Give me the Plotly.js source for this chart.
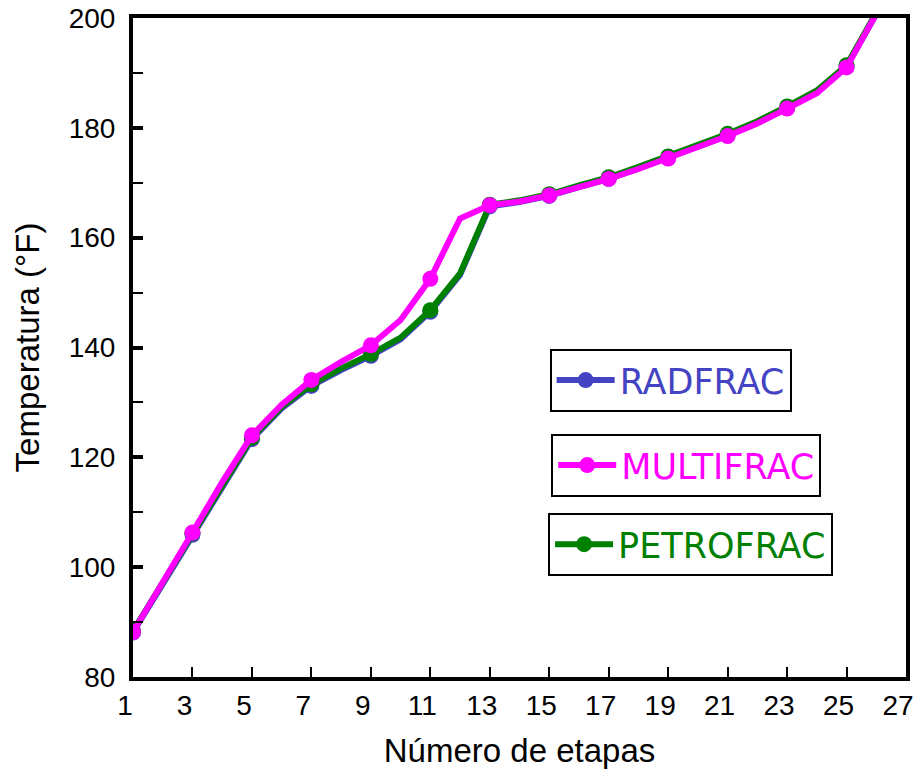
<!DOCTYPE html>
<html><head><meta charset="utf-8">
<script src="https://cdn.plot.ly/plotly-3.0.1.min.js"></script>
<style>html,body{margin:0;padding:0;background:#fff}#c{width:913px;height:774px}</style>
</head><body><div id="c"></div>
<script>
const stages = [1,2,3,4,5,6,7,8,9,10,11,12,13,14,15,16,17,18,19,20,21,22,23,24,25,26];
const radfrac = [88.1,96.9,105.9,115.0,123.3,128.9,133.0,135.9,138.5,141.5,146.5,153.2,165.7,166.5,167.6,169.2,170.7,172.6,174.5,176.6,178.6,180.9,183.6,186.5,191.1,200.7];
const multifrac = [88.2,97.0,106.3,115.5,124.0,129.6,134.1,137.4,140.4,145.0,152.5,163.5,165.9,166.6,167.7,169.2,170.7,172.5,174.4,176.5,178.5,180.8,183.5,186.3,191.0,200.8];
const petrofrac = [88.4,97.2,106.2,115.3,123.6,129.2,133.3,136.2,138.8,141.8,146.8,153.5,166.0,166.8,167.9,169.5,171.0,172.9,174.8,176.9,178.9,181.2,183.9,186.8,191.4,201.0];
const xTicks = [1,3,5,7,9,11,13,15,17,19,21,23,25,27];
const yTicks = [80,100,120,140,160,180,200];

function mk(name, y, color, legendId){
  const mc = stages.map(s => (s % 2 === 1) ? color : 'rgba(0,0,0,0)');
  return {x: stages, y: y, name: name, type: 'scatter', mode: 'lines+markers',
    line: {color: color, width: 6}, marker: {size: 16, color: mc, line: {width: 0}},
    cliponaxis: true, legend: legendId};
}
const traces = [
  mk('RADFRAC', radfrac, '#4343C3', 'legend'),
  mk('PETROFRAC', petrofrac, '#008000', 'legend3'),
  mk('MULTIFRAC', multifrac, '#FF00FF', 'legend2')
];
const legBase = {xref:'paper', yref:'paper', xanchor:'left', yanchor:'top', bgcolor:'#fff',
  bordercolor:'#000', borderwidth:2, itemwidth:58, itemclick:false};
const lf = c => ({family:'DejaVu Sans', size:35, color:c});
const layout = {
  width: 913, height: 774,
  margin: {l:133, r:7, t:18, b:97},
  paper_bgcolor: '#fff', plot_bgcolor: '#fff',
  showlegend: true,
  legend: Object.assign({}, legBase, {x:0.539, y:0.498, font:lf('#4343C3')}),
  legend2: Object.assign({}, legBase, {x:0.541, y:0.369, font:lf('#FF00FF')}),
  legend3: Object.assign({}, legBase, {x:0.537, y:0.249, font:lf('#008000')}),
  xaxis: {range:[1,27], tickvals: xTicks, ticktext: xTicks.map(String), ticks:'inside', ticklen:10, tickwidth:2,
    tickcolor:'#000', showline:true, linewidth:4, linecolor:'#000', mirror:true, showgrid:false, zeroline:false,
    ticklabeloverflow:'allow', ticklabelshift:-8,
    tickfont:{family:'Liberation Sans, Arial', size:28, color:'#000'},
    title:{text:'Número de etapas', font:{family:'Liberation Sans, Arial', size:33, color:'#000'}, standoff:20}},
  yaxis: {range:[80,200], tickvals: yTicks, ticktext: yTicks.map(String), ticks:'inside', ticklen:10, tickwidth:4,
    tickcolor:'#000', showline:true, linewidth:4, linecolor:'#000', mirror:true, showgrid:false, zeroline:false,
    ticklabelstandoff: 8, ticklabeloverflow:'allow',
    minor:{dtick:10, tick0:80, ticks:'inside', ticklen:10, tickwidth:2, tickcolor:'#000', showgrid:false},
    tickfont:{family:'Liberation Sans, Arial', size:28, color:'#000'},
    title:{text:'Temperatura (°F)', font:{family:'Liberation Sans, Arial', size:33, color:'#000'}, standoff:20}}
};
Plotly.newPlot('c', traces, layout, {displayModeBar:false, staticPlot:true});
</script></body></html>
